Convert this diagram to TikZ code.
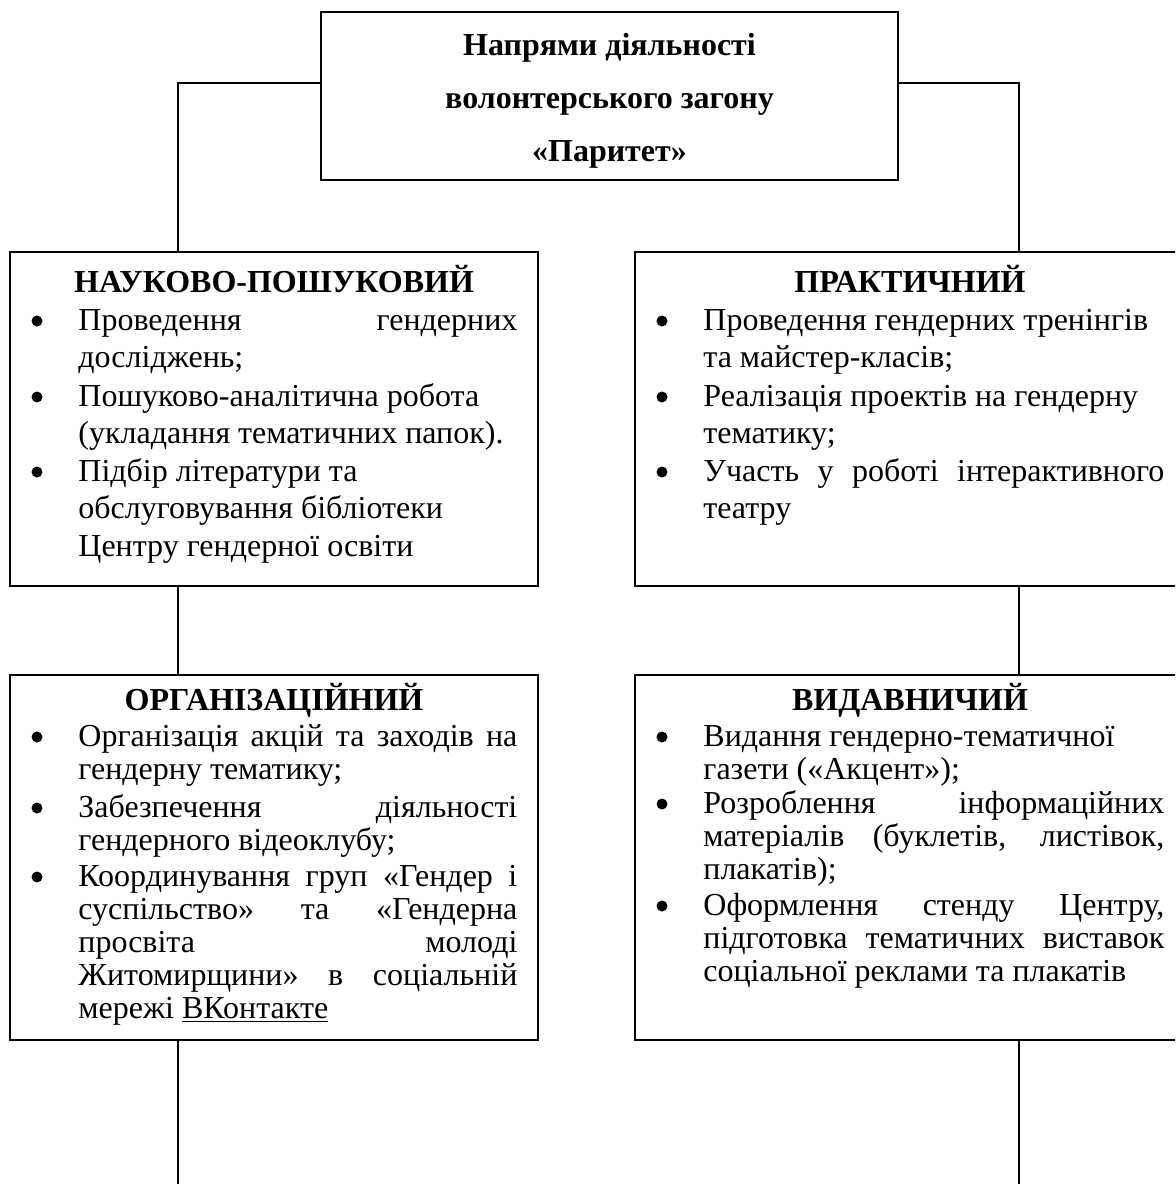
\documentclass[tikz,border=0pt]{standalone}
\usepackage{fontspec}
\setmainfont{Liberation Serif}
\newlength\lw \setlength\lw{219.5pt}
\newlength\rw \setlength\rw{230.5pt}
\newcommand{\jl}[2]{\makebox[#1][s]{#2}}
\newcommand{\rows}[1]{\begin{tabular}[t]{@{}l@{}}#1\end{tabular}}
\tikzset{
  box/.style={draw, line width=1pt, inner sep=0pt},
  ln/.style={line width=1pt},
  hd/.style={anchor=base, inner sep=0pt, font=\bfseries\fontsize{16}{19}\selectfont},
  up/.style={anchor=base west, inner sep=0pt, font=\fontsize{16}{18.75}\selectfont},
  lo/.style={anchor=base west, inner sep=0pt, font=\fontsize{16}{16.5}\selectfont},
  blt/.style={circle, fill, inner sep=0pt, minimum size=5.5pt}
}
\begin{document}
\begin{tikzpicture}[x=0.5pt, y=-0.5pt]
\useasboundingbox (0,0) rectangle (1175,1184);
\fill[white] (0,0) rectangle (1175,1184);
\clip (0,0) rectangle (1175,1184);
% boxes
\node[box, minimum width=288.5pt, minimum height=84pt] (top) at (609.5,96) {};
\node[align=center, font=\bfseries\fontsize{16}{26.5}\selectfont] (toph) at (609.5,101)
  {Напрями діяльності\\волонтерського загону\\«Паритет»};
\node[box, minimum width=264pt, minimum height=167pt] (nauk) at (274,419) {};
\node[box, minimum width=275pt, minimum height=167pt] (prakt) at (910,419) {};
\node[box, minimum width=264pt, minimum height=182.5pt] (org) at (274,857.5) {};
\node[box, minimum width=275pt, minimum height=182.5pt] (vyd) at (910,857.5) {};
% connectors
\coordinate (lt) at (178,83);
\coordinate (rt) at (1019,83);
\coordinate (lb) at (178,1184);
\coordinate (rb) at (1019,1184);
\draw[ln] (lt -| top.west) -- (lt) -- (lt |- nauk.north);
\draw[ln] (rt -| top.east) -- (rt) -- (rt |- prakt.north);
\draw[ln] (lt |- nauk.south) -- (lt |- org.north);
\draw[ln] (rt |- prakt.south) -- (rt |- vyd.north);
\draw[ln] (lt |- org.south) -- (lb);
\draw[ln] (rt |- vyd.south) -- (rb);
% headings
\node[hd] (naukh) at (274,292) {НАУКОВО-ПОШУКОВИЙ};
\node[hd] (prakth) at (910,292) {ПРАКТИЧНИЙ};
\node[hd] (orgh) at (274,710) {ОРГАНІЗАЦІЙНИЙ};
\node[hd] (vydh) at (910,710) {ВИДАВНИЧИЙ};
% bullets
\foreach \y in {330,406,481} {
  \node[blt] (bn\y) at (37,\y-9) {};
  \node[blt] (bp\y) at (662,\y-9) {};
}
\foreach \y in {746,817,886} \node[blt] (bo\y) at (37,\y-9) {};
\foreach \y in {746,813,915} \node[blt] (bv\y) at (662,\y-9) {};
% items
\node[up] (n1) at (78,330) {\rows{\jl{\lw}{Проведення гендерних}\\досліджень;}};
\node[up] (n2) at (78,406) {\rows{Пошуково-аналітична робота\\(укладання тематичних папок).}};
\node[up] (n3) at (78,481) {\rows{Підбір літератури та\\обслуговування бібліотеки\\Центру гендерної освіти}};
\node[up] (p1) at (703,330) {\rows{Проведення гендерних тренінгів\\та майстер-класів;}};
\node[up] (p2) at (703,406) {\rows{Реалізація проектів на гендерну\\тематику;}};
\node[up] (p3) at (703,481) {\rows{\jl{\rw}{Участь у роботі інтерактивного}\\театру}};
\node[lo] (o1) at (78,746) {\rows{\jl{\lw}{Організація акцій та заходів на}\\гендерну тематику;}};
\node[lo] (o2) at (78,817) {\rows{\jl{\lw}{Забезпечення діяльності}\\гендерного відеоклубу;}};
\node[lo] (o3) at (78,886) {\rows{\jl{\lw}{Координування груп «Гендер і}\\
  \jl{\lw}{суспільство» та «Гендерна}\\\jl{\lw}{просвіта молоді}\\
  \jl{\lw}{Житомирщини» в соціальній}\\мережі \underline{ВКонтакте}}};
\node[lo] (v1) at (703,746) {\rows{Видання гендерно-тематичної\\газети («Акцент»);}};
\node[lo] (v2) at (703,813) {\rows{\jl{\rw}{Розроблення інформаційних}\\
  \jl{\rw}{матеріалів (буклетів, листівок,}\\плакатів);}};
\node[lo] (v3) at (703,915) {\rows{\jl{\rw}{Оформлення стенду Центру,}\\
  \jl{\rw}{підготовка тематичних виставок}\\соціальної реклами та плакатів}};
\end{tikzpicture}
\end{document}
